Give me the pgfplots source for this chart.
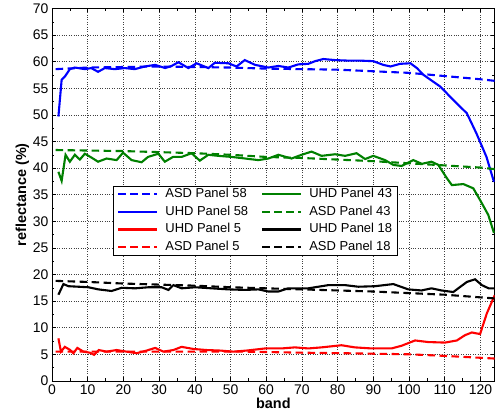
\documentclass[border=0pt]{standalone}
\usepackage{pgfplots}
\pgfplotsset{compat=1.18}
\usepackage{fontspec}
\setmainfont{Liberation Sans}
\definecolor{mgreen}{rgb}{0,0.5,0}
\tikzset{sl/.style={line width=2.1bp}, dl/.style={line width=2.1bp, dash pattern=on 7.5bp off 4.5bp}}
\begin{document}
\begin{tikzpicture}
\begin{axis}[
  name=ax,
  scale only axis,
  width=442.7bp, height=372.4bp,
  xmin=0, xmax=124, ymin=0, ymax=70,
  xtick={0,10,...,120}, ytick={0,5,...,70},
  minor x tick num=1, minor y tick num=1,
  tick align=inside, tick pos=both,
  major tick length=4bp, minor tick length=2.5bp,
  grid=major,
  major grid style={dotted, black!75, line width=0.5pt},
  axis line style={line width=0.6pt},
  tick style={line width=0.5pt, black},
  /pgf/number format/assume math mode=true,
  ticklabel style={font=\fontsize{14}{16}\selectfont},
  xlabel={\textbf{band}}, ylabel={\textbf{reflectance (\%)}},
  label style={font=\fontsize{14.5}{17}\selectfont},
  xlabel style={at={(axis description cs:0.5,0)}, anchor=center, yshift=-22.8bp},
  ylabel style={at={(axis description cs:-0.0666,0.5)}, anchor=center},
  legend columns=2,
  legend cell align=left,
  legend style={at={(0.1378,0.5234)}, anchor=north west, draw=black, fill=white,
    font=\fontsize{13}{15}\selectfont, line width=0.6pt,
    inner xsep=4bp, inner ysep=0.8bp,
    nodes={inner sep=1bp, text height=9.4bp, text depth=2.6bp},
    /tikz/every odd column/.append style={column sep=6bp},
    /tikz/every even column/.append style={column sep=12bp},
    row sep=3.7bp},
  legend image code/.code={\draw[#1] (0bp,0bp) -- (39bp,0bp);},
]
% ASD Panel 58
\addplot[blue, dl] coordinates {
(1,58.6) (10,58.9) (20,59.0) (30,59.1) (40,59.0) (50,58.9) (60,58.7) (70,58.6) (80,58.5) (90,58.2) (100,57.9) (110,57.3) (120,56.7) (124,56.4)};
\addlegendentry{ASD Panel 58}
% UHD Panel 43
\addplot[mgreen, sl] coordinates {
(1.8,39.3) (2.7,37.6) (3.8,42.5) (5,41.2) (6.4,42.5) (7.8,41.6) (9.2,42.7) (11,42.0) (12.9,41.2) (15.3,41.8) (18.1,41.5) (19.9,42.9) (22.3,41.5) (25.1,41.1) (26.9,42.1) (29.8,42.7) (31.6,41.2) (33.9,42.1) (36.3,42.1) (39.1,42.8) (41.4,41.4) (43.8,42.5) (46.6,42.3) (50.3,42.1) (54.1,41.8) (57.8,41.5) (60.6,41.8) (63.4,42.5) (67.1,41.8) (69.9,42.5) (72.7,43.1) (75.5,42.3) (79.3,42.6) (82.1,42.3) (85.3,42.8) (87.7,41.7) (90,42.3) (93.3,41.5) (95.6,40.6) (97.9,40.4) (101.2,41.5) (103.6,40.8) (106.3,41.2) (108.2,40.6) (110.6,38.1) (112,36.8) (115.2,37.0) (118,36.2) (119.9,34.0) (122.2,31.2) (123.8,27.8)};
\addlegendentry{UHD Panel 43}
% UHD Panel 58
\addplot[blue, sl] coordinates {
(1.8,49.7) (2.7,56.6) (3.6,57.2) (5,58.6) (6.4,58.9) (9.2,58.6) (11,58.8) (12.9,58.1) (14.8,58.8) (17.6,58.6) (20.4,58.8) (23.2,58.6) (26,59.1) (28.9,59.4) (31.7,58.8) (33.5,59.2) (35.4,59.9) (38.2,58.8) (40.5,59.7) (43.8,58.8) (45.6,59.8) (49.4,59.7) (51.7,59.1) (54,60.3) (56.9,59.4) (60.6,58.9) (63.4,59.2) (66.2,58.9) (69,59.5) (71.8,59.6) (73.7,60.1) (76,60.5) (79.3,60.3) (83,60.2) (86.3,60.2) (90,60.1) (92.8,59.4) (94.8,59.1) (97.5,59.6) (100.4,59.7) (102.2,58.8) (104.1,57.5) (108.8,55.3) (112.4,52.8) (116.2,50.3) (118.9,46.5) (121.7,42.1) (123.8,37.4)};
\addlegendentry{UHD Panel 58}
% ASD Panel 43
\addplot[mgreen, dl] coordinates {
(1,43.4) (10,43.3) (20,43.2) (30,43.0) (40,42.8) (50,42.5) (60,42.1) (70,41.9) (80,41.6) (90,41.3) (100,40.9) (110,40.5) (120,40.1) (124,39.8)};
\addlegendentry{ASD Panel 43}
% UHD Panel 5
\addplot[red, sl] coordinates {
(1.8,8.0) (2.5,5.5) (3.6,6.4) (5.1,5.8) (6,5.2) (7.1,6.2) (8.8,5.5) (10.6,5.3) (11.8,4.9) (13.1,5.8) (15.3,5.5) (18.1,5.8) (20.9,5.5) (23.7,5.2) (26.5,5.7) (28.9,6.2) (31.2,5.5) (34,5.8) (36.3,6.4) (39.6,6.0) (43.3,5.8) (47.1,5.7) (50.8,5.5) (54.5,5.7) (59.7,6.1) (64.3,6.1) (68,6.3) (71.8,6.1) (75.5,6.3) (81.1,6.7) (84.8,6.3) (89.5,6.1) (95.1,6.1) (97.9,6.6) (101.7,7.6) (105.4,7.3) (110.1,7.2) (113.4,7.6) (115.7,8.6) (117.6,9.1) (119.9,8.8) (121.8,12.7) (124,16.1)};
\addlegendentry{UHD Panel 5}
% UHD Panel 18
\addplot[black, sl] coordinates {
(1.8,16.2) (3.2,18.2) (4.6,17.8) (7.4,17.7) (10.2,17.6) (13,17.2) (16.7,16.9) (19.5,17.5) (23.3,17.4) (27,17.6) (30.7,17.6) (32.6,17.1) (34,18.0) (36.3,17.4) (40.1,17.6) (44.7,17.4) (49.4,17.2) (54.1,17.1) (57.8,17.2) (60.6,16.8) (63.4,16.8) (66.2,17.4) (71.8,17.4) (77.4,18.0) (82.1,18.0) (85.8,17.7) (90.5,17.8) (95.6,18.2) (99.8,17.2) (103.5,17.0) (106.3,17.4) (109.1,17.0) (112.4,16.7) (113.8,17.4) (116.2,18.6) (118.5,19.1) (120.4,18.0) (122.3,17.4) (124,17.4)};
\addlegendentry{UHD Panel 18}
% ASD Panel 5
\addplot[red, dl] coordinates {
(1,5.5) (20,5.5) (40,5.5) (54,5.5) (70,5.3) (82,5.2) (100,5.0) (110,4.7) (124,4.2)};
\addlegendentry{ASD Panel 5}
% ASD Panel 18
\addplot[black, dl] coordinates {
(1,18.8) (10,18.6) (20,18.3) (30,18.1) (40,17.9) (50,17.6) (60,17.4) (70,17.2) (80,17.0) (90,16.8) (100,16.5) (110,16.2) (120,15.7) (124,15.5)};
\addlegendentry{ASD Panel 18}
\end{axis}
\pgfresetboundingbox
\useasboundingbox ([xshift=-52bp,yshift=-31.1bp]ax.south west) rectangle ([xshift=0.3bp,yshift=8.5bp]ax.north east);
\end{tikzpicture}
\end{document}
